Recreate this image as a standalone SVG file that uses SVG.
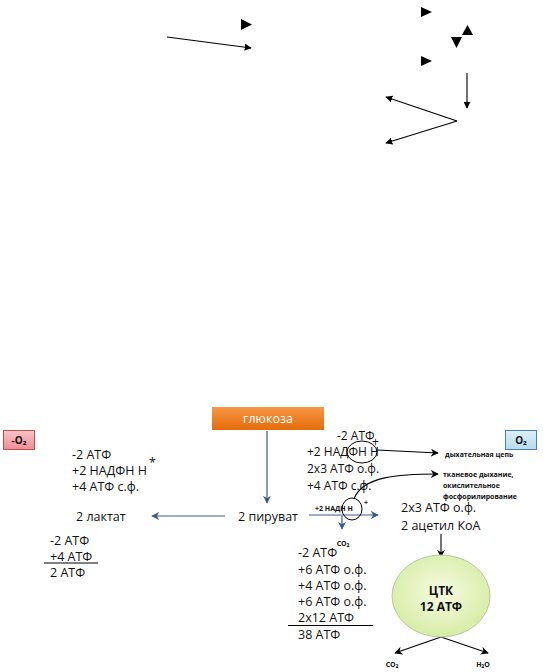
<svg xmlns="http://www.w3.org/2000/svg" width="554" height="672" viewBox="0 0 554 672">
<defs>
<marker id="ah" viewBox="0 0 10 10" refX="9" refY="5" markerWidth="7" markerHeight="7" orient="auto" markerUnits="userSpaceOnUse"><path d="M0,0 L10,5 L0,10 z" fill="#000"/></marker>
<marker id="ab" viewBox="0 0 10 10" refX="9" refY="5" markerWidth="8" markerHeight="8" orient="auto" markerUnits="userSpaceOnUse"><path d="M0,0 L10,5 L0,10 L3,5 z" fill="#3a5a8c"/></marker>
<marker id="ak" viewBox="0 0 10 10" refX="9" refY="5" markerWidth="8" markerHeight="8" orient="auto" markerUnits="userSpaceOnUse"><path d="M0,0 L10,5 L0,10 L3,5 z" fill="#000"/></marker>
<linearGradient id="gOr" x1="0" y1="0" x2="0" y2="1"><stop offset="0" stop-color="#f79646"/><stop offset="1" stop-color="#e46c0a"/></linearGradient>
<linearGradient id="gPk" x1="0" y1="0" x2="0" y2="1"><stop offset="0" stop-color="#f9c4c6"/><stop offset="1" stop-color="#f08c95"/></linearGradient>
<linearGradient id="gBl" x1="0" y1="0" x2="0" y2="1"><stop offset="0" stop-color="#dcf0fa"/><stop offset="1" stop-color="#b7dbef"/></linearGradient>
<radialGradient id="gGr" cx="0.5" cy="0.45" r="0.6"><stop offset="0" stop-color="#f6fbe2"/><stop offset="1" stop-color="#d4eba0"/></radialGradient>
</defs>
<style>
.t{font-family:"Open Sans","Liberation Sans",sans-serif;font-size:12.5px;fill:#111}
.r{font-family:"Open Sans","Liberation Sans",sans-serif;font-size:12px;fill:#111}
.s{font-family:"Open Sans","Liberation Sans",sans-serif;font-size:7px;font-weight:bold;fill:#111}
.b{font-family:"Open Sans","Liberation Sans",sans-serif;font-weight:bold;fill:#111}
.ln{stroke:#000;stroke-width:1.1;fill:none}
.bl{stroke:#3a5a8c;stroke-width:1.2;fill:none}
.tri{fill:#000}
</style>

<!-- stray top marks -->
<g id="stray">
<path class="tri" d="M241,19 L252,24.5 L241,30 z"/>
<path class="tri" d="M421,7 L432,12 L421,17 z"/>
<path class="tri" d="M462,35 L467.5,25 L473,35 z"/>
<path class="tri" d="M451,37 L462,37 L456.5,48 z"/>
<path class="tri" d="M421,56 L432,61 L421,66 z"/>
</g>

<g id="connectors">
<line class="ln" x1="167" y1="37" x2="251" y2="48" marker-end="url(#ah)"/>
<line class="ln" x1="467" y1="73" x2="467" y2="108" marker-end="url(#ah)"/>
<line class="ln" x1="457" y1="121" x2="386" y2="97" marker-end="url(#ah)"/>
<line class="ln" x1="457" y1="121" x2="386" y2="143" marker-end="url(#ah)"/>

<line class="bl" x1="267" y1="431" x2="267" y2="503" marker-end="url(#ab)"/>
<line class="bl" x1="225" y1="516" x2="152" y2="516" marker-end="url(#ab)"/>
<line class="bl" x1="309" y1="515" x2="378" y2="515" marker-end="url(#ab)"/>
<line class="bl" x1="342" y1="516" x2="342" y2="529" marker-end="url(#ab)"/>
<line class="ln" x1="377" y1="450" x2="438" y2="453" marker-end="url(#ak)"/>
<path class="ln" d="M354,499 C362,476 400,474 438,474" marker-end="url(#ak)"/>
<line class="ln" x1="441" y1="534" x2="441" y2="557" marker-end="url(#ak)"/>
<line class="ln" x1="441" y1="637" x2="395" y2="653" marker-end="url(#ak)"/>
<line class="ln" x1="441" y1="637" x2="488" y2="653" marker-end="url(#ak)"/>
</g>

<g id="glucose">
<rect x="212" y="407" width="112" height="23" fill="url(#gOr)"/>
<text class="t" x="268" y="423" text-anchor="middle" style="fill:#fff">глюкоза</text>
</g>

<g id="minusO2">
<rect x="3.5" y="430.5" width="31" height="19" fill="url(#gPk)" stroke="#c0504d" stroke-width="1"/>
<text class="b" x="19" y="444" font-size="10" text-anchor="middle">-O₂</text>
</g>

<g id="O2">
<rect x="505.5" y="430.5" width="31" height="19" fill="url(#gBl)" stroke="#4a7ebb" stroke-width="1"/>
<text class="b" x="521" y="444" font-size="10" text-anchor="middle">O₂</text>
</g>

<g id="anaerobic">
<text class="t" x="72" y="459">-2 АТФ</text>
<text class="t" x="72" y="475">+2 НАДФН Н</text>
<text class="t" x="149" y="467" font-size="8">*</text>
<text class="t" x="72" y="491">+4 АТФ с.ф.</text>
<text class="t" x="76" y="521">2 лактат</text>
<text class="t" x="50" y="545">-2 АТФ</text>
<text class="t" x="50" y="561">+4 АТФ</text>
<line x1="44" y1="563" x2="98" y2="563" stroke="#000" stroke-width="1"/>
<text class="t" x="50" y="577">2 АТФ</text>
</g>

<g id="pyruvate">
<text class="t" x="268" y="521" text-anchor="middle">2 пируват</text>
</g>

<g id="aerobic">
<text class="r" x="337" y="440">-2 АТФ</text>
<text class="r" x="307" y="456">+2 НАДФН Н</text>
<ellipse cx="362" cy="452" rx="15" ry="11" fill="none" stroke="#000" stroke-width="1"/>
<text class="r" x="372" y="446" font-size="8">+</text>
<text class="r" x="307" y="473">2x3 АТФ о.ф.</text>
<text class="r" x="307" y="490">+4 АТФ с.ф.</text>
<text class="s" x="315" y="511">+2 НАДН Н</text>
<ellipse cx="352" cy="509" rx="10" ry="11" fill="none" stroke="#000" stroke-width="1"/>
<text class="s" x="364" y="505" font-size="8">+</text>
<text class="s" x="343" y="546" text-anchor="middle">CO₂</text>
<text class="t" x="401" y="512">2x3 АТФ о.ф.</text>
<text class="t" x="401" y="530">2 ацетил КоА</text>
<text class="s" x="445" y="457">дыхательная цепь</text>
<text class="s" x="443" y="477">тканевое дыхание,</text>
<text class="s" x="443" y="488">окислительное</text>
<text class="s" x="443" y="499">фосфорилирование</text>
</g>

<g id="balance">
<text class="t" x="298" y="557">-2 АТФ</text>
<text class="t" x="298" y="574">+6 АТФ о.ф.</text>
<text class="t" x="298" y="590">+4 АТФ о.ф.</text>
<text class="t" x="298" y="606">+6 АТФ о.ф.</text>
<text class="t" x="298" y="622">2x12 АТФ</text>
<line x1="288" y1="625.5" x2="373" y2="625.5" stroke="#000" stroke-width="1"/>
<text class="t" x="298" y="639">38 АТФ</text>
</g>

<g id="tca">
<ellipse cx="441" cy="596" rx="49" ry="41" fill="url(#gGr)" stroke="#b8c7a0" stroke-width="1"/>
<text class="b" x="441" y="595" font-size="12" text-anchor="middle">ЦТК</text>
<text class="b" x="441" y="611" font-size="12" text-anchor="middle">12 АТФ</text>
</g>

<g id="products">
<text class="s" x="392" y="667" text-anchor="middle">CO₂</text>
<text class="s" x="483" y="667" text-anchor="middle">H₂O</text>
</g>
</svg>
